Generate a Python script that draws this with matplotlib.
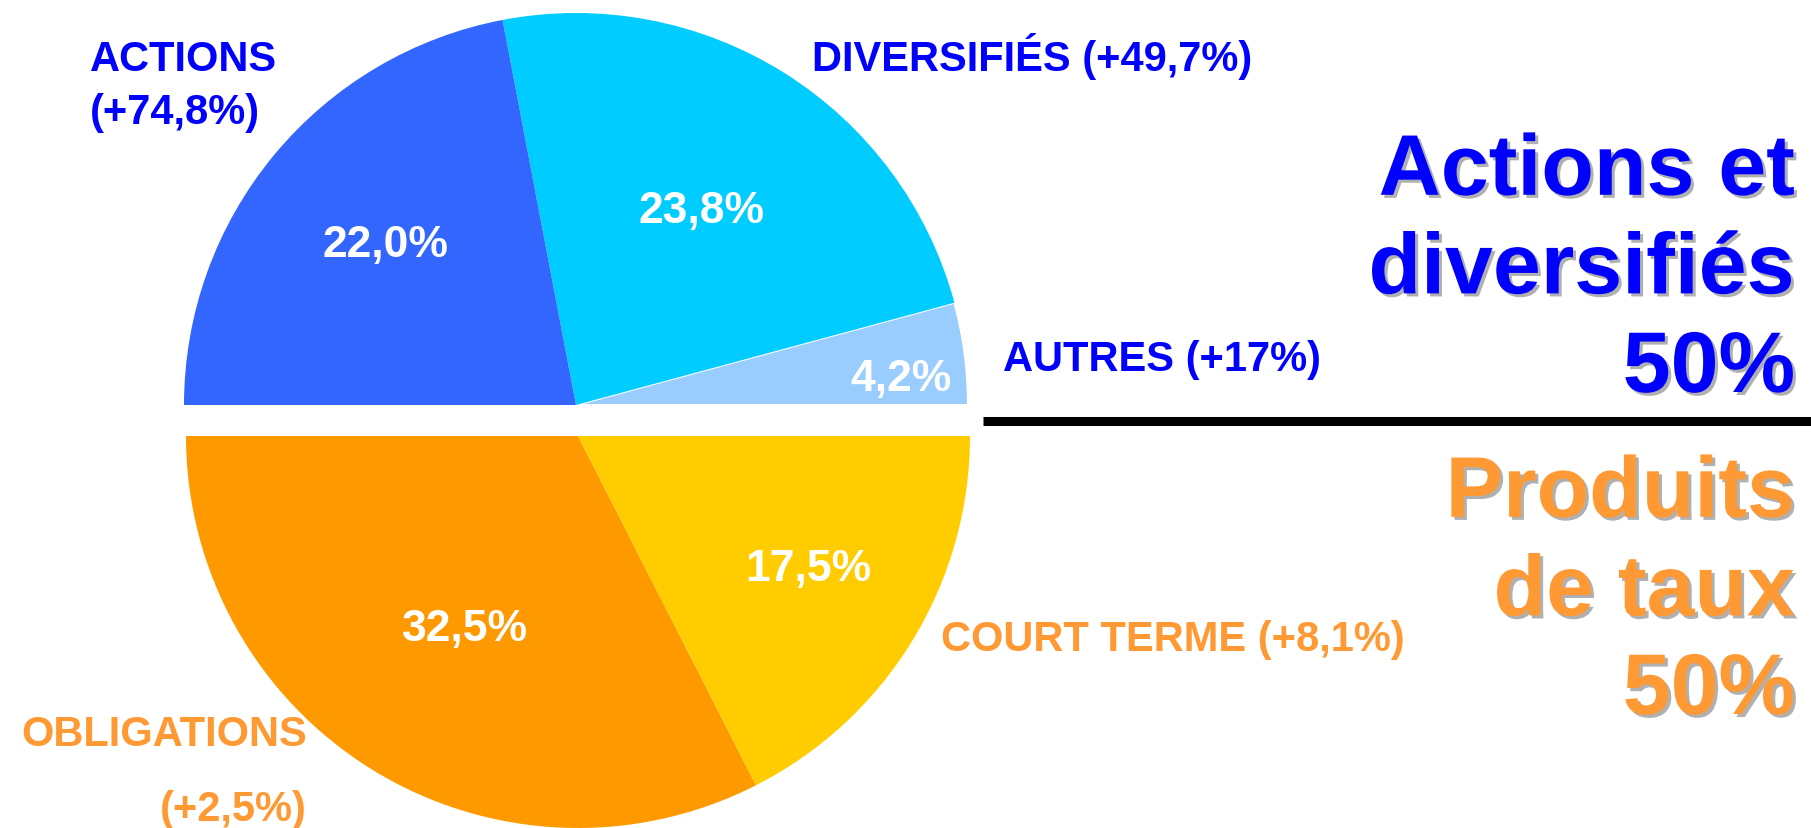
import matplotlib.pyplot as plt
import matplotlib.patheffects as pe

plt.rcParams['font.family'] = ['Liberation Sans', 'DejaVu Sans']

# --- data ---
top_names = ["AUTRES", "DIVERSIFIÉS", "ACTIONS"]
top_shares = [4.2, 23.8, 22.0]
top_growth = ["+17%", "+49,7%", "+74,8%"]
top_colors = ["#99CCFF", "#00CCFF", "#3366FF"]

bottom_names = ["OBLIGATIONS", "COURT TERME"]
bottom_shares = [32.5, 17.5]
bottom_growth = ["+2,5%", "+8,1%"]
bottom_colors = ["#FF9900", "#FFCC00"]

group_titles = ["Actions et\ndiversifiés\n50%", "Produits\nde taux\n50%"]

BLUE = "#0000FF"
ORANGE = "#FF9933"

W, H = 1811, 829
fig = plt.figure(figsize=(W / 100, H / 100), dpi=100)
ax = fig.add_axes([0, 0, 1, 1])

def fmt(v):
    return f"{v:.1f}".replace(".", ",") + "%"

# top half, from 0 to 180 degrees
top_w, top_t = ax.pie([s / 100 for s in top_shares], colors=top_colors,
                      startangle=0, counterclock=True, normalize=False,
                      radius=392, center=(576, H - 406),
                      labels=[fmt(s) for s in top_shares], labeldistance=None)
top_w[0].set_edgecolor("white")
top_w[0].set_linewidth(1.5)

# bottom half, shifted down a bit
bot_w, bot_t = ax.pie([s / 100 for s in bottom_shares], colors=bottom_colors,
                      startangle=180, counterclock=True, normalize=False,
                      radius=392, center=(578, H - 437),
                      labels=[fmt(s) for s in bottom_shares], labeldistance=None)

ax.set_xlim(0, W)
ax.set_ylim(0, H)
ax.set_aspect("auto")
ax.axis("off")

# percentages inside the slices
inside_pos = {"AUTRES": (901, 379), "DIVERSIFIÉS": (701, 211), "ACTIONS": (385, 246),
              "OBLIGATIONS": (465, 629), "COURT TERME": (808, 569)}
for n, s in zip(top_names + bottom_names, top_shares + bottom_shares):
    x, y = inside_pos[n]
    ax.text(x, H - y, fmt(s), color="white", fontsize=32, fontweight="bold",
            ha="center", va="center")

# outer labels
lab = dict(fontsize=30, fontweight="bold", va="center")
ax.text(90, H - 60, top_names[2], color=BLUE, ha="left", **lab)
ax.text(90, H - 113, f"({top_growth[2]})", color=BLUE, ha="left", **lab)
ax.text(812, H - 56, f"{top_names[1]} ({top_growth[1]})", color=BLUE, ha="left", **lab)
ax.text(1003, H - 360, f"{top_names[0]} ({top_growth[0]})", color=BLUE, ha="left", **lab)
ax.text(941, H - 640, f"{bottom_names[1]} ({bottom_growth[1]})", color=ORANGE, ha="left", **lab)
ax.text(307, H - 735, bottom_names[0], color=ORANGE, ha="right", **lab)
ax.text(307, H - 810, f"({bottom_growth[0]})", color=ORANGE, ha="right", **lab)

# group totals on the right
shadow = [pe.SimplePatchShadow(offset=(2.2, -2.2), shadow_rgbFace="#B0B0B0", alpha=1),
          pe.Normal()]
ax.text(1795, H - 393, group_titles[0], color=BLUE, fontsize=62, fontweight="bold",
        ha="right", va="baseline", linespacing=1.3, path_effects=shadow)
ax.text(1795, H - 715, group_titles[1], color=ORANGE, fontsize=62, fontweight="bold",
        ha="right", va="baseline", linespacing=1.3, path_effects=shadow)

ax.plot([983, 1811], [H - 422, H - 422], color="black", lw=6.5, solid_capstyle="butt")

fig.savefig("out.png", dpi=100)
